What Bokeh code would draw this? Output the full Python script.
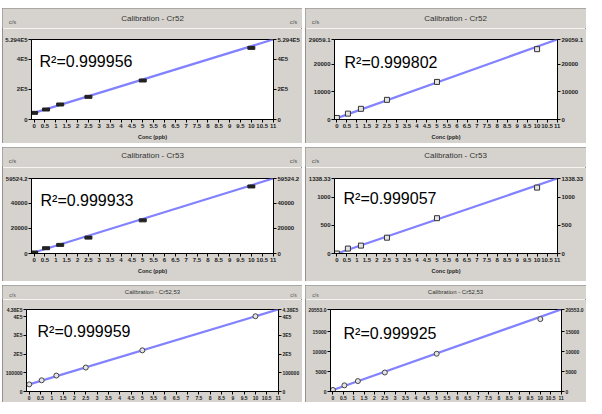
from bokeh.plotting import figure
from bokeh.models import FixedTicker, Label, Range1d, LinearAxis
from bokeh.layouts import row, column
from bokeh.embed import file_html
from bokeh.resources import INLINE

# ---- data ----
conc = [0, 0.55, 1.2, 2.5, 5, 10]
fit_x = [0, 11]
x_ticks = [0, 0.5, 1, 1.5, 2, 2.5, 3, 3.5, 4, 4.5, 5, 5.5, 6, 6.5, 7, 7.5, 8, 8.5, 9, 9.5, 10, 10.5, 11]
x_tick_labels = ["0", "0.5", "1", "1.5", "2", "2.5", "3", "3.5", "4", "4.5", "5", "5.5",
                 "6", "6.5", "7", "7.5", "8", "8.5", "9", "9.5", "10", "10.5", "11"]

titles = ["Calibration - Cr52", "Calibration - Cr52", "Calibration - Cr53",
          "Calibration - Cr53", "Calibration - Cr52,53", "Calibration - Cr52,53"]
r2_texts = ["R²=0.999956", "R²=0.999802", "R²=0.999933",
            "R²=0.999057", "R²=0.999959", "R²=0.999925"]
unit_label = "c/s"
x_label = "Conc (ppb)"

cr52_a_counts = [44000, 66200, 99300, 150000, 258000, 474000]
cr52_b_counts = [560, 2130, 3880, 7140, 13650, 25550]
cr53_a_counts = [800, 4200, 6840, 12600, 26300, 53200]
cr53_b_counts = [0, 88, 141, 282, 630, 1176]
cr5253_a_counts = [38000, 60000, 85000, 128000, 220000, 402000]
cr5253_b_counts = [385, 1540, 2615, 4770, 9460, 18150]

cr52_a_fit = [44000, 529400]
cr52_b_fit = [500, 29059.1]
cr53_a_fit = [800, 59524.2]
cr53_b_fit = [0, 1338.33]
cr5253_a_fit = [38000, 438000]
cr5253_b_fit = [385, 20553.0]

cr52_a_yticks = [0, 200000, 400000, 529400]
cr52_a_ylabels = ["0", "2E5", "4E5", "5.294E5"]
cr52_b_yticks = [0, 10000, 20000, 29059.1]
cr52_b_ylabels = ["0", "10000", "20000", "29059.1"]
cr53_a_yticks = [0, 20000, 40000, 59524.2]
cr53_a_ylabels = ["0", "20000", "40000", "59524.2"]
cr53_b_yticks = [0, 500, 1000, 1338.33]
cr53_b_ylabels = ["0", "500", "1000", "1338.33"]
cr5253_a_yticks = [0, 100000, 200000, 300000, 400000, 438000]
cr5253_a_ylabels = ["0", "100000", "2E5", "3E5", "4E5", "4.38E5"]
cr5253_b_yticks = [0, 5000, 10000, 15000, 20553.0]
cr5253_b_ylabels = ["0", "5000", "10000", "15000", "20553.0"]

PANEL_BG = "#d6d3ce"
LINE_COLOR = "#8282ff"
FONT = "Liberation Sans"


def blank(w, h):
    b = figure(width=w, height=h, output_backend="svg", toolbar_location=None,
               min_border=0, x_axis_location=None, y_axis_location=None,
               background_fill_color="white", border_fill_color="white",
               outline_line_color=None, title=None)
    b.frame_align = False
    b.grid.visible = False
    return b


def header(title, w, hh, title_y, cs_y, right_cs, small):
    hd = figure(width=w, height=hh, output_backend="svg", toolbar_location=None,
                x_range=Range1d(0, w), y_range=Range1d(0, hh), min_border=0,
                x_axis_location=None, y_axis_location=None,
                background_fill_color=PANEL_BG, border_fill_color=PANEL_BG,
                outline_line_color=None, title=None)
    hd.frame_align = False
    hd.grid.visible = False
    hd.add_layout(Label(x=150, y=hh - title_y, text=title, text_font=FONT,
                        text_font_size="6px" if small else "8px", text_color="#333333",
                        text_align="center", text_baseline="middle"))
    hd.add_layout(Label(x=10, y=hh - cs_y, text=unit_label, text_font=FONT,
                        text_font_size="5px" if small else "6px", text_color="#555555",
                        text_align="center", text_baseline="middle"))
    if right_cs:
        hd.add_layout(Label(x=w - 9, y=hh - cs_y, text=unit_label, text_font=FONT,
                            text_font_size="5px" if small else "6px", text_color="#555555",
                            text_align="center", text_baseline="middle"))
    return hd


def panel(title, r2, counts, fit_y, yticks, ylabels, w, h, hh, bl, br, bt, bb,
          title_y, cs_y, right_cs=True, small=False, marker="bar", r2_dx=9, r2_dy=22):
    tick_fs = "5px" if small else "6px"
    p = figure(width=w, height=h - hh, output_backend="svg", toolbar_location=None,
               x_range=Range1d(-0.12, 11.02), y_range=Range1d(0, fit_y[1]),
               min_border_left=bl, min_border_right=br,
               min_border_top=bt, min_border_bottom=bb, title=None,
               background_fill_color="white", border_fill_color=PANEL_BG,
               outline_line_color="black", outline_line_width=1)
    p.frame_align = False
    p.grid.visible = False

    def style_axis(ax, is_x):
        ax.axis_line_color = "black"
        ax.major_tick_line_color = "black"
        ax.major_tick_out = 3
        ax.major_tick_in = 0
        ax.minor_tick_line_color = None
        ax.major_label_text_font = FONT
        ax.major_label_text_font_size = tick_fs
        ax.major_label_text_font_style = "bold"
        ax.major_label_text_color = "#222222"
        ax.major_label_standoff = 1
        if is_x:
            ax.ticker = FixedTicker(ticks=x_ticks)
            ax.major_label_overrides = dict(zip(x_ticks, x_tick_labels))
        else:
            ax.ticker = FixedTicker(ticks=yticks)
            ax.major_label_overrides = dict(zip(yticks, ylabels))

    style_axis(p.xaxis[0], True)
    if not small:
        p.xaxis[0].axis_label = x_label
        p.xaxis[0].axis_label_text_font = FONT
        p.xaxis[0].axis_label_text_font_size = "5.5px"
        p.xaxis[0].axis_label_text_font_style = "bold"
        p.xaxis[0].axis_label_standoff = 3
        p.xaxis[0].axis_label_text_color = "#222222"
    style_axis(p.yaxis[0], False)
    right_axis = LinearAxis()
    style_axis(right_axis, False)
    p.add_layout(right_axis, "right")

    p.line(fit_x, fit_y, line_color=LINE_COLOR, line_width=2.2)
    if marker == "hollow":
        p.rect(conc, counts, width=5, height=5, width_units="screen", height_units="screen",
               fill_color="#e4e4e4", line_color="#333333", line_width=1)
    elif marker == "circle":
        p.scatter(conc, counts, size=5, marker="circle",
                  fill_color="#e4e4e4", line_color="#444444", line_width=1)
    else:
        p.rect(conc, counts, width=7, height=3, width_units="screen", height_units="screen",
               fill_color="#222222", line_color="#222222")

    p.add_layout(Label(x=-0.12, y=fit_y[1], x_offset=r2_dx, y_offset=-r2_dy, text=r2,
                       text_font=FONT, text_font_size="16px",
                       text_color="black", text_baseline="alphabetic"))

    hd = header(title, w, hh, title_y, cs_y, right_cs, small)
    col = column(hd, p, spacing=0)
    col.styles = {"outline": "1px solid #7c7c7c", "outline-offset": "-1px"}
    return col


p1 = panel(titles[0], r2_texts[0], cr52_a_counts, cr52_a_fit, cr52_a_yticks, cr52_a_ylabels,
           300, 135, 20, 27, 23, 11, 24, 10, 13, r2_dx=8, r2_dy=22)
p2 = panel(titles[1], r2_texts[1], cr52_b_counts, cr52_b_fit, cr52_b_yticks, cr52_b_ylabels,
           281, 135, 20, 26, 20, 11, 24, 10, 13, right_cs=False, marker="hollow", r2_dx=10, r2_dy=23)
p3 = panel(titles[2], r2_texts[2], cr53_a_counts, cr53_a_fit, cr53_a_yticks, cr53_a_ylabels,
           300, 134, 20, 26, 26, 11, 28, 8, 13, r2_dx=9, r2_dy=22)
p4 = panel(titles[3], r2_texts[3], cr53_b_counts, cr53_b_fit, cr53_b_yticks, cr53_b_ylabels,
           281, 134, 20, 26, 20, 11, 28, 8, 13, right_cs=False, marker="hollow", r2_dx=9, r2_dy=20)
p5 = panel(titles[4], r2_texts[4], cr5253_a_counts, cr5253_a_fit, cr5253_a_yticks, cr5253_a_ylabels,
           300, 117, 14, 19, 15, 10, 10, 6, 9, small=True, marker="circle", r2_dx=11, r2_dy=22)
p6 = panel(titles[5], r2_texts[5], cr5253_b_counts, cr5253_b_fit, cr5253_b_yticks, cr5253_b_ylabels,
           281, 117, 14, 19, 15, 10, 10, 6, 9, right_cs=False, small=True, marker="circle",
           r2_dx=13, r2_dy=24)

grid = column(blank(584, 4), row(p1, p2, spacing=3), row(p3, p4, spacing=3),
              row(p5, p6, spacing=3), spacing=4)
layout = row(blank(2, 400), grid, spacing=0)

open("out.html", "w").write(file_html(layout, INLINE))
